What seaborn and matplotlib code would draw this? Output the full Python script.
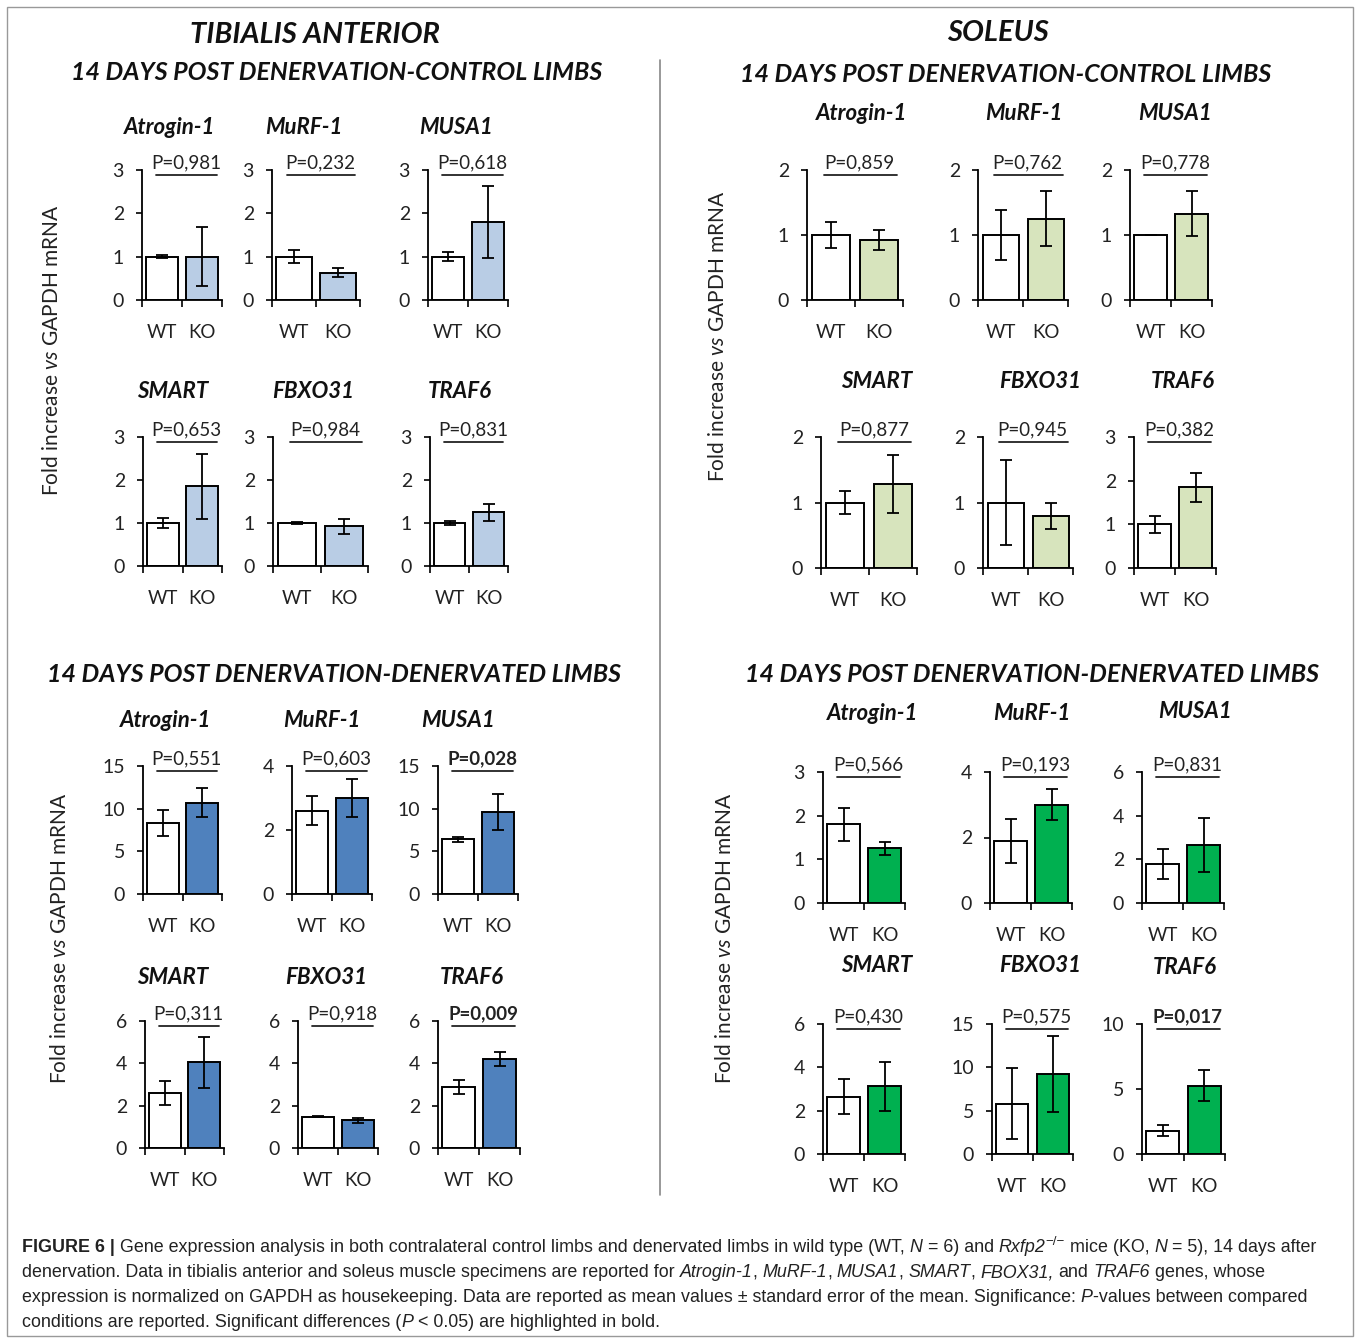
import matplotlib
matplotlib.use("Agg")
import matplotlib.pyplot as plt
import seaborn as sns
from matplotlib.lines import Line2D
from matplotlib.patches import Rectangle
from matplotlib.ticker import FixedLocator, MultipleLocator

W, H = 1360, 1343

genes = ['Atrogin-1', 'MuRF-1', 'MUSA1', 'SMART', 'FBXO31', 'TRAF6']
groups = ['WT', 'KO']

# tibialis anterior - control limbs
ta_ctrl_wt = [1.0, 1.0, 1.0, 1.0, 1.0, 1.0]
ta_ctrl_wt_err = [0.03, 0.15, 0.1, 0.12, 0.02, 0.05]
ta_ctrl_ko = [1.0, 0.63, 1.8, 1.85, 0.92, 1.25]
ta_ctrl_ko_err = [0.68, 0.1, 0.83, 0.75, 0.17, 0.2]
ta_ctrl_p = ['0,981', '0,232', '0,618', '0,653', '0,984', '0,831']
ta_ctrl_ymax = [3, 3, 3, 3, 3, 3]
ta_ctrl_step = [1, 1, 1, 1, 1, 1]

# soleus - control limbs
sol_ctrl_wt = [1.0, 1.0, 1.0, 1.0, 1.0, 1.0]
sol_ctrl_wt_err = [0.2, 0.38, 0.0, 0.18, 0.65, 0.2]
sol_ctrl_ko = [0.92, 1.25, 1.33, 1.28, 0.8, 1.85]
sol_ctrl_ko_err = [0.15, 0.42, 0.35, 0.44, 0.2, 0.33]
sol_ctrl_p = ['0,859', '0,762', '0,778', '0,877', '0,945', '0,382']
sol_ctrl_ymax = [2, 2, 2, 2, 2, 3]
sol_ctrl_step = [1, 1, 1, 1, 1, 1]

# tibialis anterior - denervated limbs
ta_den_wt = [8.3, 2.6, 6.4, 2.6, 1.48, 2.88]
ta_den_wt_err = [1.5, 0.45, 0.3, 0.58, 0.03, 0.32]
ta_den_ko = [10.7, 3.0, 9.6, 4.05, 1.3, 4.2]
ta_den_ko_err = [1.7, 0.6, 2.1, 1.2, 0.12, 0.32]
ta_den_p = ['0,551', '0,603', '0,028', '0,311', '0,918', '0,009']
ta_den_ymax = [15, 4, 15, 6, 6, 6]
ta_den_step = [5, 2, 5, 2, 2, 2]

# soleus - denervated limbs
sol_den_wt = [1.8, 1.9, 1.78, 2.65, 5.8, 1.8]
sol_den_wt_err = [0.38, 0.67, 0.7, 0.8, 4.1, 0.45]
sol_den_ko = [1.25, 3.0, 2.65, 3.12, 9.2, 5.25]
sol_den_ko_err = [0.15, 0.48, 1.25, 1.12, 4.4, 1.2]
sol_den_p = ['0,566', '0,193', '0,831', '0,430', '0,575', '0,017']
sol_den_ymax = [3, 4, 6, 6, 15, 10]
sol_den_step = [1, 2, 2, 2, 5, 5]

sns.set_theme(style="white")
plt.rcParams['font.family'] = ['Lato', 'DejaVu Sans']
plt.rcParams['mathtext.fontset'] = 'custom'
plt.rcParams['mathtext.rm'] = 'Lato'
plt.rcParams['mathtext.it'] = 'Lato:italic'

fig = plt.figure(figsize=(W / 100, H / 100), dpi=100)


def px_axes(x0, x1, y0, ytop):
    return fig.add_axes([x0 / W, 1 - y0 / H, (x1 - x0) / W, (y0 - ytop) / H])


def ftext(x, y, s, **kw):
    return fig.text(x / W, 1 - y / H, s, **kw)


panels = [
    dict(wt=ta_ctrl_wt, wt_err=ta_ctrl_wt_err, ko=ta_ctrl_ko, ko_err=ta_ctrl_ko_err,
         p=ta_ctrl_p, ymax=ta_ctrl_ymax, step=ta_ctrl_step, color='#b9cde5',
         xs=[(142, 222), (272, 360), (428, 508), (143, 222), (273, 368), (430, 508)],
         rows=[(300, 170), (566, 437)],
         titles=[(170, 127), (304, 127), (456, 127), (173, 392), (313, 392), (460, 392)]),
    dict(wt=sol_ctrl_wt, wt_err=sol_ctrl_wt_err, ko=sol_ctrl_ko, ko_err=sol_ctrl_ko_err,
         p=sol_ctrl_p, ymax=sol_ctrl_ymax, step=sol_ctrl_step, color='#d7e4bd',
         xs=[(807, 903), (978, 1068), (1130, 1212), (821, 917), (983, 1073), (1134, 1216)],
         rows=[(300, 170), (568, 437)],
         titles=[(862, 113), (1024, 113), (1175, 113), (877, 381), (1040, 381), (1183, 381)]),
    dict(wt=ta_den_wt, wt_err=ta_den_wt_err, ko=ta_den_ko, ko_err=ta_den_ko_err,
         p=ta_den_p, ymax=ta_den_ymax, step=ta_den_step, color='#4f81bd',
         xs=[(143, 222), (292, 372), (438, 518), (145, 224), (298, 378), (438, 520)],
         rows=[(894, 766), (1148, 1021)],
         titles=[(166, 721), (322, 721), (458, 721), (173, 977), (326, 977), (472, 977)]),
    dict(wt=sol_den_wt, wt_err=sol_den_wt_err, ko=sol_den_ko, ko_err=sol_den_ko_err,
         p=sol_den_p, ymax=sol_den_ymax, step=sol_den_step, color='#00b050',
         xs=[(823, 905), (990, 1072), (1142, 1224), (823, 905), (992, 1073), (1142, 1225)],
         rows=[(903, 772), (1154, 1024)],
         titles=[(873, 714), (1032, 714), (1195, 712), (877, 966), (1040, 966), (1185, 968)]),
]

for pan in panels:
    for i, gene in enumerate(genes):
        x0, x1 = pan['xs'][i]
        y0, ytop = pan['rows'][i // 3]
        ax = px_axes(x0, x1, y0, ytop)
        vals = [pan['wt'][i], pan['ko'][i]]
        errs = [pan['wt_err'][i], pan['ko_err'][i]]
        sns.barplot(x=groups, y=vals, hue=groups, palette=['white', pan['color']],
                    saturation=1, edgecolor='black', linewidth=1.4, width=0.8,
                    legend=False, ax=ax)
        ax.errorbar([0, 1], vals, yerr=errs, fmt='none', ecolor='black',
                    elinewidth=1.3, capsize=4, capthick=1.3)
        ax.set_xlim(-0.5, 1.5)
        ax.set_ylim(0, pan['ymax'][i])
        ax.yaxis.set_major_locator(MultipleLocator(pan['step'][i]))
        ax.xaxis.set_minor_locator(FixedLocator([-0.5, 0.5, 1.5]))
        for side in ['top', 'right']:
            ax.spines[side].set_visible(False)
        for side in ['left', 'bottom']:
            ax.spines[side].set_color('black')
            ax.spines[side].set_linewidth(1.3)
        ax.tick_params(axis='y', which='major', left=True, direction='out', length=4,
                       width=1.2, color='black', pad=9, labelsize=14, labelcolor='#222222')
        ax.tick_params(axis='x', which='major', length=0, pad=17, labelsize=13.5,
                       labelcolor='#222222')
        ax.tick_params(axis='x', which='minor', bottom=True, direction='out', length=5,
                       width=1.2, color='black')
        ax.set_xlabel('')
        ax.set_ylabel('')

        # p-value bracket
        hpx = y0 - ytop
        yl = 1 - 5 / hpx
        ax.plot([-0.15, 1.38], [yl, yl], transform=ax.get_xaxis_transform(),
                color='#222222', lw=1.3, clip_on=False)
        pval = float(pan['p'][i].replace(',', '.'))
        ax.text(0.6, yl + 4 / hpx, 'P=' + pan['p'][i], transform=ax.get_xaxis_transform(),
                ha='center', va='bottom', fontsize=13.5, color='#222222',
                fontweight='bold' if pval < 0.05 else 'normal')

        tx, ty = pan['titles'][i]
        ftext(tx, ty, gene, ha='center', va='center', fontsize=16,
              fontweight='bold', fontstyle='italic', color='#111111')

# section titles
ftext(315, 35, 'TIBIALIS ANTERIOR', ha='center', va='center', fontsize=21,
      fontweight='bold', fontstyle='italic', color='#111111')
ftext(998, 33, 'SOLEUS', ha='center', va='center', fontsize=21,
      fontweight='bold', fontstyle='italic', color='#111111')
ftext(337, 73, '14 DAYS POST DENERVATION-CONTROL LIMBS', ha='center', va='center',
      fontsize=18, fontweight='bold', fontstyle='italic', color='#111111')
ftext(1006, 75, '14 DAYS POST DENERVATION-CONTROL LIMBS', ha='center', va='center',
      fontsize=18, fontweight='bold', fontstyle='italic', color='#111111')
ftext(334, 675, '14 DAYS POST DENERVATION-DENERVATED LIMBS', ha='center', va='center',
      fontsize=18, fontweight='bold', fontstyle='italic', color='#111111')
ftext(1032, 675, '14 DAYS POST DENERVATION-DENERVATED LIMBS', ha='center', va='center',
      fontsize=18, fontweight='bold', fontstyle='italic', color='#111111')

ylab = 'Fold increase $\\mathit{vs}$ GAPDH mRNA'
for lx, ly in [(52, 350), (718, 336), (60, 938), (725, 938)]:
    ftext(lx, ly, ylab, ha='center', va='center', rotation=90, fontsize=15,
          color='#222222')

# divider and frame
fig.add_artist(Line2D([660 / W, 660 / W], [1 - 60 / H, 1 - 1195 / H],
                      transform=fig.transFigure, color='#888888', lw=1.2))
fig.add_artist(Rectangle((7 / W, 7 / H), (W - 14) / W, (H - 14) / H,
                         transform=fig.transFigure, fill=False,
                         edgecolor='#999999', lw=1))

# caption
cap_font = ['Liberation Sans Narrow', 'Liberation Sans']
cap_size = 12.9
renderer = fig.canvas.get_renderer()


def text_width(s):
    t = fig.text(0, 0, s, fontsize=cap_size, family=cap_font)
    w = t.get_window_extent(renderer).width
    t.remove()
    return w


space_w = text_width('a a') - text_width('aa')


def draw_runs(x, y, runs):
    for s, style in runs:
        kw = dict(fontsize=cap_size, family=cap_font, va='baseline', color='#222222')
        dy = 0
        if style == 'b':
            kw['fontweight'] = 'bold'
        elif style == 'i':
            kw['fontstyle'] = 'italic'
        elif style == 's':
            kw['fontsize'] = cap_size * 0.75
            dy = 7
        lead = len(s) - len(s.lstrip(' '))
        trail = len(s) - len(s.rstrip(' '))
        core = s.strip(' ')
        x += lead * space_w
        t = ftext(x, y - dy, core, **kw)
        x += t.get_window_extent(renderer).width + trail * space_w


cap_lines = [
    [('FIGURE 6 |', 'b'),
     (' Gene expression analysis in both contralateral control limbs and denervated limbs in wild type (WT, ', 'n'),
     ('N', 'i'), (' = 6) and ', 'n'), ('Rxfp2', 'i'), ('\u2212/\u2212', 's'),
     (' mice (KO, ', 'n'), ('N', 'i'), (' = 5), 14 days after', 'n')],
    [('denervation. Data in tibialis anterior and soleus muscle specimens are reported for ', 'n'),
     ('Atrogin-1', 'i'), (', ', 'n'), ('MuRF-1', 'i'), (', ', 'n'), ('MUSA1', 'i'), (', ', 'n'),
     ('SMART', 'i'), (', ', 'n'), ('FBOX31,', 'i'), (' and ', 'n'), ('TRAF6', 'i'),
     (' genes, whose', 'n')],
    [('expression is normalized on GAPDH as housekeeping. Data are reported as mean values \u00b1 standard error of the mean. Significance: ', 'n'),
     ('P', 'i'), ('-values between compared', 'n')],
    [('conditions are reported. Significant differences (', 'n'), ('P', 'i'),
     (' < 0.05) are highlighted in bold.', 'n')],
]
for k, line in enumerate(cap_lines):
    draw_runs(22, 1252 + 25 * k, line)

fig.savefig('out.png', dpi=100, facecolor='white')
